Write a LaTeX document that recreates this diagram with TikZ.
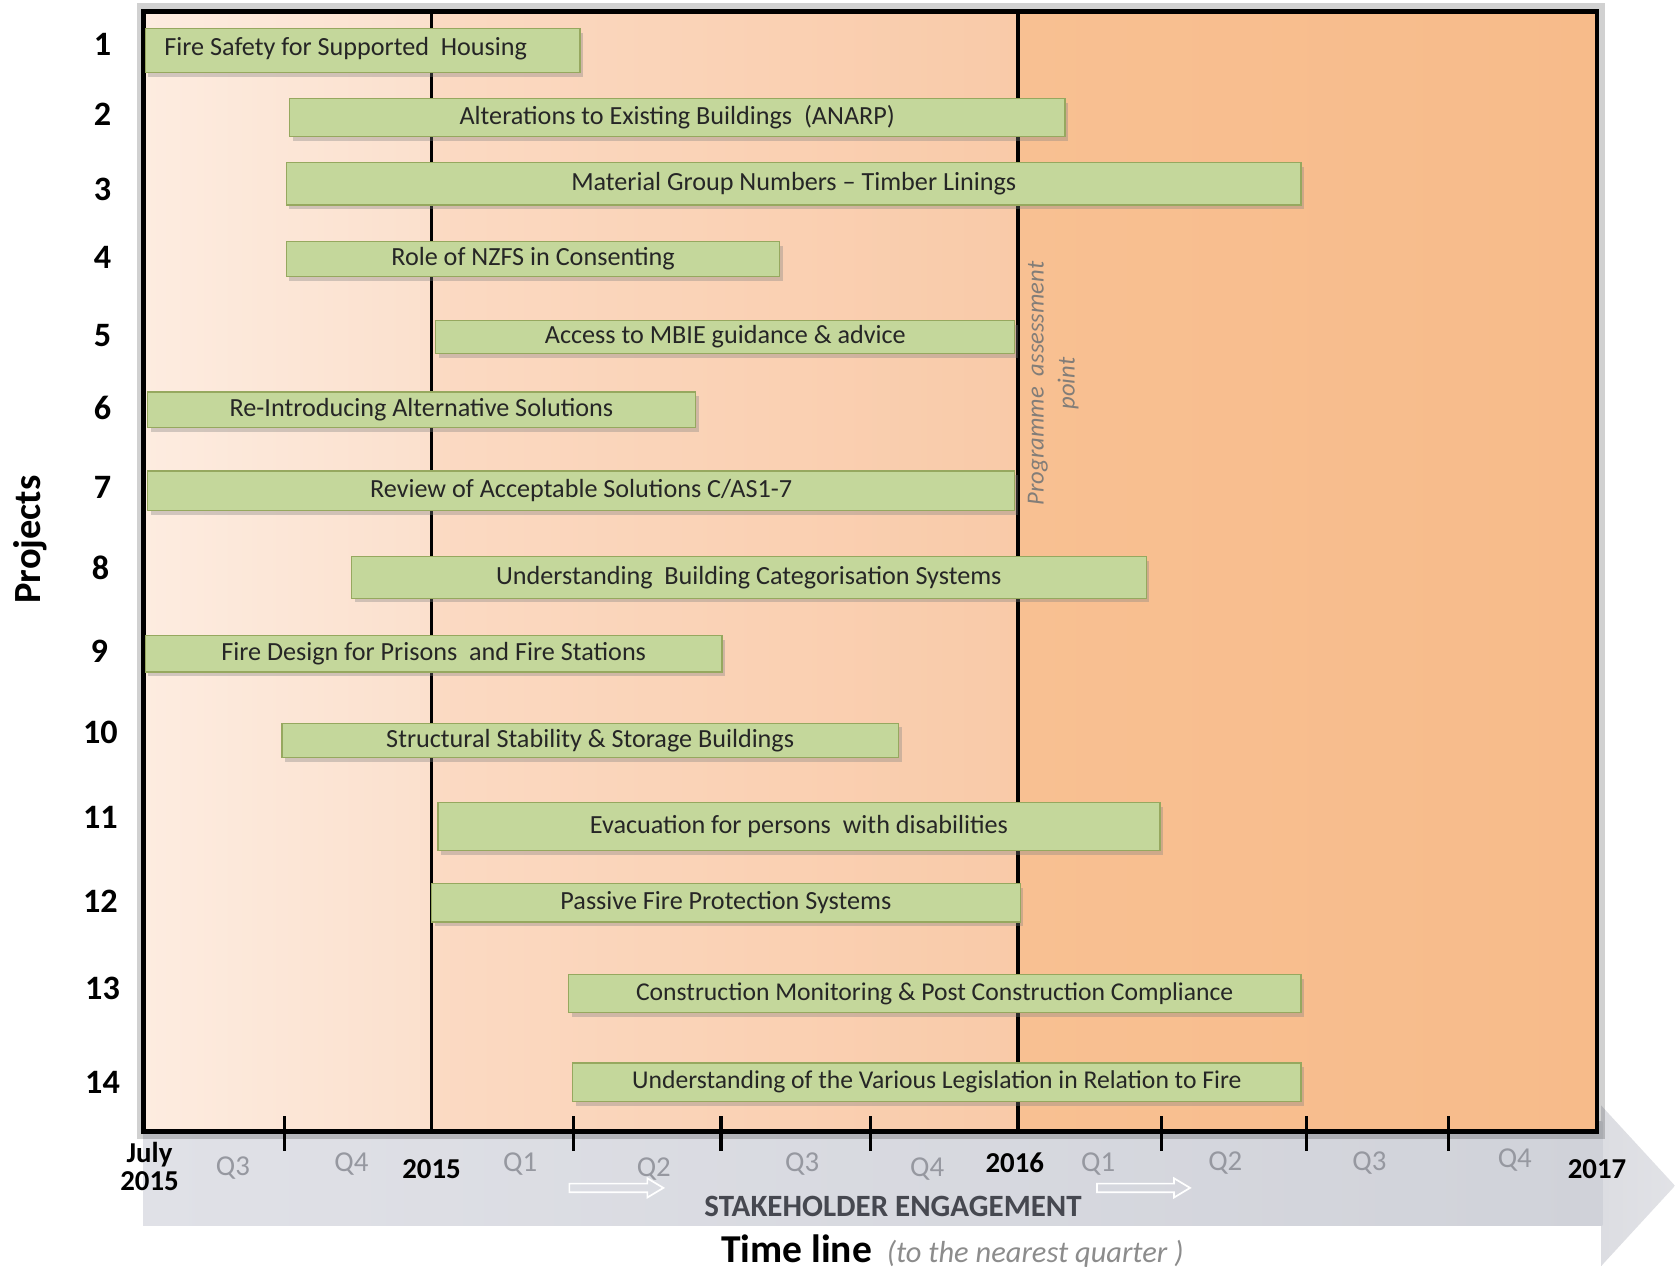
\documentclass[tikz,border=0pt]{standalone}
\usepackage{fontspec}
\setmainfont{Carlito}
\usetikzlibrary{shadows}
\definecolor{barfill}{RGB}{196,215,155}
\definecolor{barline}{RGB}{150,168,95}
\definecolor{bartext}{RGB}{38,38,38}
\definecolor{qgray}{RGB}{150,152,160}
\definecolor{stk}{RGB}{70,72,80}
\definecolor{arrL}{RGB}{224,225,231}
\definecolor{arrM}{RGB}{162,165,180}
\definecolor{arrR}{RGB}{208,210,217}
\definecolor{arrH}{RGB}{220,221,226}
\tikzset{
  barbox/.style={draw=barline, line width=1.2pt, fill=barfill, inner sep=0pt, text=bartext,
     drop shadow={shadow xshift=3pt, shadow yshift=-4pt, opacity=0.35}},
  rownum/.style={font=\fontsize{32}{34}\selectfont\bfseries, text=black},
  qlab/.style={font=\fontsize{27}{29}\selectfont, text=qgray},
  ylab/.style={font=\fontsize{27}{29}\selectfont\bfseries, text=black},
  tickline/.style={line width=3pt, black},
  hollowarrow/.style={draw=white, line width=1.6pt}
}
\newcommand\pbar[7]{%
  \node[barbox, minimum width={(#3-#2)*1pt}, minimum height={(#5-#4)*1pt},
        font=\fontsize{#6}{#6}\selectfont] (#1) at ({(#2+#3)/2},{(#4+#5)/2}) {#7};}
\begin{document}
\begin{tikzpicture}[x=1pt,y=-1pt]
\useasboundingbox (0,0) rectangle (1568,1189);
\fill[white] (0,0) rectangle (1568,1189);
% bottom arrow
\shade[left color=arrH, right color=arrH!85!white] (1499,1035) -- (1568,1110) -- (1499,1185) -- cycle;
\shade[left color=arrL, middle color=arrM, right color=arrR] (134,1050) rectangle (1500,1147);
% frame shadow
\fill[black, opacity=0.18] (128,3) rectangle (1502,1066);
% backgrounds
\shade[left color={rgb,255:red,253;green,236;blue,224}, right color={rgb,255:red,251;green,224;blue,205}] (134,11) rectangle (404,1059);
\shade[left color={rgb,255:red,251;green,218;blue,195}, right color={rgb,255:red,249;green,202;blue,168}] (404,11) rectangle (953,1059);
\shade[left color={rgb,255:red,248;green,192;blue,146}, right color={rgb,255:red,247;green,187;blue,138}] (953,11) rectangle (1495,1059);
% year lines
\draw[line width=3.5pt] (404,11) -- (404,1062);
\draw[line width=3.5pt] (953,11) -- (953,1062);
% frame
\draw[line width=4.5pt] (134,11) rectangle (1495,1059);
% ticks
\foreach \tx in {266,537,675,815,1087,1223,1356} {\draw[tickline] (\tx,1045) -- (\tx,1077);}
% programme assessment point
\node[rotate=90, align=center, text={rgb,255:red,130;green,125;blue,120}, font=\fontsize{23}{29}\selectfont\itshape] (pap) at (986,359) {Programme \ assessment\\point};
% bars
\pbar{b1}{136}{543}{27}{68}{24.5}{}
\node[anchor=west, text=bartext, font=\fontsize{24.5}{24.5}\selectfont] (t1) at ([xshift=15pt,yshift=2pt]b1.west) {Fire Safety for Supported \ Housing};
\pbar{b2}{271}{997}{92}{128}{24.5}{Alterations to Existing Buildings \ (ANARP)}
\pbar{b3}{268}{1218}{152}{192}{24.5}{Material Group Numbers -- Timber Linings}
\pbar{b4}{268}{730}{226}{259}{24.5}{Role of NZFS in Consenting}
\pbar{b5}{408}{950}{300}{331}{24.5}{Access to MBIE guidance \& advice}
\pbar{b6}{138}{651}{367}{400}{24.5}{Re-Introducing Alternative Solutions}
\pbar{b7}{138}{950}{441}{478}{24.5}{Review of Acceptable Solutions C/AS1-7}
\pbar{b8}{329}{1073}{521}{560}{24.5}{Understanding \ Building Categorisation Systems}
\pbar{b9}{136}{676}{595}{629}{24.5}{Fire Design for Prisons \ and Fire Stations}
\pbar{b10}{264}{841}{677}{709}{24.5}{Structural Stability \& Storage Buildings}
\pbar{b11}{410}{1086}{751}{796}{24.5}{Evacuation for persons \ with disabilities}
\pbar{b12}{404}{955}{827}{863}{24.5}{Passive Fire Protection Systems}
\pbar{b13}{532}{1218}{912}{948}{24}{Construction Monitoring \& Post Construction Compliance}
\pbar{b14}{536}{1218}{995}{1031}{24}{Understanding of the Various Legislation in Relation to Fire}
% row numbers
\node[rownum] (r1) at (96,42) {1};
\node[rownum] (r2) at (96,107) {2};
\node[rownum] (r3) at (96,177) {3};
\node[rownum] (r4) at (96,241) {4};
\node[rownum] (r5) at (96,314) {5};
\node[rownum] (r6) at (96,382) {6};
\node[rownum] (r7) at (96,456) {7};
\node[rownum] (r8) at (94,532) {8};
\node[rownum] (r9) at (93,610) {9};
\node[rownum] (r10) at (94,686) {10};
\node[rownum] (r11) at (94,765) {11};
\node[rownum] (r12) at (94,844) {12};
\node[rownum] (r13) at (96,925) {13};
\node[rownum] (r14) at (96,1013) {14};
\node[rotate=90, font=\fontsize{36}{38}\selectfont\bfseries] (proj) at (28,505) {Projects};
% axis labels
\node[ylab, align=center] (july) at (140,1092) {July\\[-3pt]2015};
\node[qlab] (q3a) at (218,1093) {Q3};
\node[qlab] (q4a) at (329,1090) {Q4};
\node[ylab] (y15) at (404,1094) {2015};
\node[qlab] (q1a) at (487,1090) {Q1};
\node[qlab] (q2a) at (612,1094) {Q2};
\node[qlab] (q3b) at (751,1090) {Q3};
\node[qlab] (q4b) at (868,1094) {Q4};
\node[ylab] (y16) at (950,1088) {2016};
\node[qlab] (q1b) at (1028,1090) {Q1};
\node[qlab] (q2b) at (1147,1089) {Q2};
\node[qlab] (q3c) at (1282,1089) {Q3};
\node[qlab] (q4c) at (1418,1086) {Q4};
\node[ylab] (y17) at (1495,1094) {2017};
% hollow arrows
\draw[hollowarrow] (533,1108) -- (606,1108) -- (606,1103) -- (621,1112) -- (606,1121) -- (606,1116) -- (533,1116) -- cycle;
\draw[hollowarrow] (1027,1108) -- (1099,1108) -- (1099,1103) -- (1114,1112) -- (1099,1121) -- (1099,1116) -- (1027,1116) -- cycle;
\node[text=stk, font=\fontsize{29}{31}\selectfont\bfseries] (stake) at (836,1129) {STAKEHOLDER ENGAGEMENT};
\node[anchor=base west, font=\fontsize{37}{39}\selectfont\bfseries, inner sep=0pt] (tl) at (675,1182) {Time line};
\node[anchor=base west, text={rgb,255:red,140;green,140;blue,140}, font=\fontsize{28.5}{30}\selectfont\itshape, inner sep=0pt] (tlq) at (830,1182) {(to the nearest quarter )};
\end{tikzpicture}
\end{document}
